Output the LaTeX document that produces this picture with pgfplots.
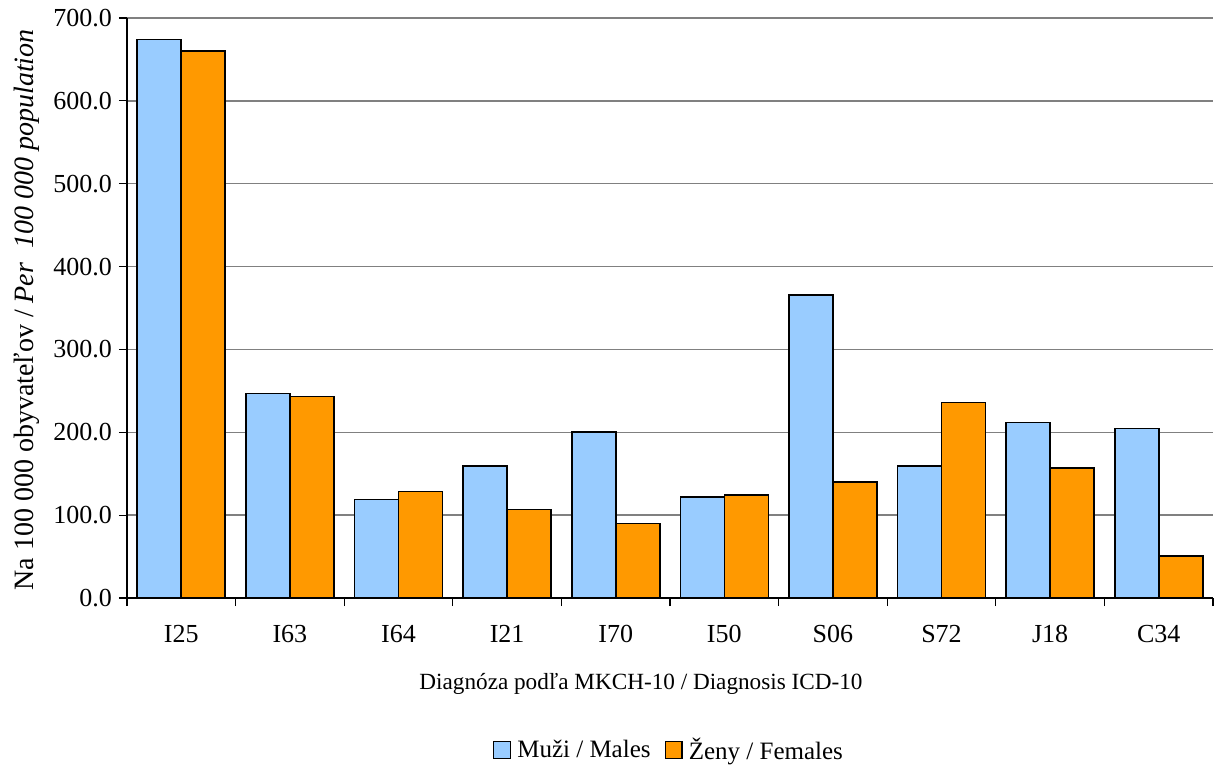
\documentclass[border=0pt]{standalone}
\usepackage{pgfplots}
\pgfplotsset{compat=1.18}
\usepackage{fontspec}
\setmainfont{Liberation Serif}
\definecolor{males}{HTML}{99CCFF}
\definecolor{females}{HTML}{FF9900}
\definecolor{gridgray}{HTML}{808080}

\pgfplotstableread{
x cat males females
0 I25 674 660
1 I63 247 243
2 I64 119 128.6
3 I21 159 107
4 I70 200 90
5 I50 121.7 124
6 S06 366 140
7 S72 159.5 236
8 J18 211.7 157
9 C34 204.5 51
}\datatable

\begin{document}
\begin{tikzpicture}
\begin{axis}[
    scale only axis,
    width=543pt, height=290pt,
    ybar=0pt, bar width=22pt,
    xmin=-0.5, xmax=9.5,
    ymin=0, ymax=700,
    ytick={0,100,...,700},
    xtick={0,...,9},
    xticklabels={I25,I63,I64,I21,I70,I50,S06,S72,J18,C34},
    minor xtick={-0.5,0.5,...,9.5},
    major x tick style={draw=none},
    minor tick length=4pt,
    major tick length=4pt,
    tick align=outside,
    tick style={black, line width=0.6pt},
    axis x line*=bottom, axis y line*=left,
    axis line style={-, black, line width=0.8pt},
    ymajorgrids, grid style={gridgray, line width=0.7pt},
    yticklabel style={/pgf/number format/.cd, fixed, fixed zerofill, precision=1, assume math mode=true},
    ticklabel style={font=\fontsize{13}{15}\selectfont},
    xticklabel style={yshift=-6pt},
    xlabel={Diagnóza podľa MKCH-10 / Diagnosis ICD-10},
    xlabel style={font=\fontsize{11.6}{14}\selectfont, at={(rel axis cs:0.5,0)}, anchor=center, yshift=-43pt, xshift=-14.5pt},
    ylabel={Na 100 000 obyvateľov / \textit{Per\ \ 100 000 population}},
    ylabel style={font=\fontsize{14}{16}\selectfont, at={(rel axis cs:0,0.5)}, anchor=center, yshift=50pt, xshift=-1pt},
    legend style={draw=none, at={(0.5,-0.262)}, anchor=center, legend columns=-1,
        font=\fontsize{12.5}{14}\selectfont,
        /tikz/every even column/.append style={column sep=5pt},
        /tikz/every odd column/.append style={column sep=1pt}},
    legend image code/.code={\draw[#1, line width=0.7pt] (0pt,-4.2pt) rectangle (8.4pt,4.2pt);},
]
\addplot[fill=males, draw=black, line width=0.8pt] table[x=x, y=males]{\datatable};
\addlegendentry{Muži / Males}
\addplot[fill=females, draw=black, line width=0.8pt] table[x=x, y=females]{\datatable};
\addlegendentry{Ženy / Females}
\coordinate (bl) at (rel axis cs:0,0);
\end{axis}
\pgfresetboundingbox
\path ([shift={(-63.5pt,-84pt)}]bl) rectangle ([shift={(544pt,299pt)}]bl);
\end{tikzpicture}
\end{document}
